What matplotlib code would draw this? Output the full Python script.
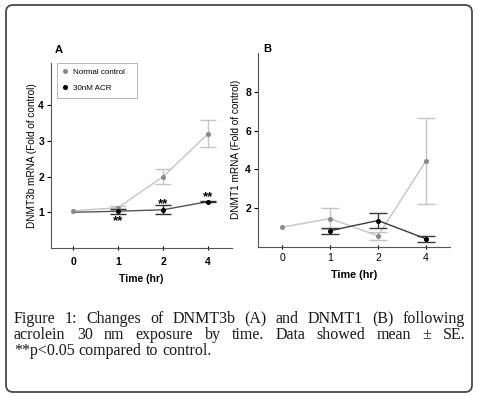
import numpy as np
import matplotlib.pyplot as plt
import matplotlib.transforms as mtransforms
from matplotlib.patches import FancyBboxPatch
from matplotlib.lines import Line2D

plt.rcParams["font.family"] = ["Liberation Sans", "DejaVu Sans"]

时间标签 = ["0", "1", "2", "4"]

# A: DNMT3b
a_对照 = [1.04, 1.13, 2.0, 3.2]
a_对照误差 = [0.0, 0.05, 0.2, 0.38]
a_ACR = [1.0, 1.03, 1.07, 1.3]
a_ACR误差 = [0.0, 0.07, 0.13, 0.02]
a_星号位置 = [(1, 0.84), (2, 1.32), (3, 1.5)]

# B: DNMT1
b_对照 = [1.0, 1.45, 0.55, 4.45]
b_对照误差 = [0.0, 0.55, 0.2, 2.25]
b_ACR = [np.nan, 0.82, 1.35, 0.4]
b_ACR误差 = [0.0, 0.15, 0.4, 0.15]

灰线 = "#c4c4c4"
灰点 = "#8a8a8a"
黑线 = "#3a3a3a"

W, H = 480, 397
fig = plt.figure(figsize=(W / 100, H / 100), dpi=100)


def px_axes(left, top, right, bottom):
    return fig.add_axes([left / W, 1 - bottom / H, (right - left) / W, (bottom - top) / H])


def style_axis(ax, bold_x):
    for s in ["top", "right"]:
        ax.spines[s].set_visible(False)
    for s in ["left", "bottom"]:
        ax.spines[s].set_color("#555555")
        ax.spines[s].set_linewidth(0.8)
    ax.tick_params(axis="y", length=3, width=0.8, pad=2, labelsize=7.5)
    ax.tick_params(axis="x", width=0.8, labelsize=7.5, direction="inout", length=3)
    for lab in ax.get_yticklabels():
        lab.set_fontweight("bold")
    if bold_x:
        for lab in ax.get_xticklabels():
            lab.set_fontweight("bold")


def draw_series(ax, vals, errs, line_c, mark_c, cap):
    x = np.arange(len(vals))
    v = np.array(vals, dtype=float)
    ax.plot(x, v, color=line_c, lw=1.0, zorder=2)
    for xi, vi, ei in zip(x, v, errs):
        if np.isnan(vi) or ei == 0:
            continue
        ax.errorbar(xi, vi, yerr=ei, color=line_c, lw=1.0, capsize=cap, capthick=1.0, zorder=2)
    ax.plot(x, v, ls="none", marker="o", ms=2.6, color=mark_c, zorder=3)


# Panel A
axA = px_axes(51, 63, 232, 248)
draw_series(axA, a_对照, a_对照误差, 灰线, 灰点, 6)
axA.plot(np.arange(len(a_ACR)), a_ACR, color="#555555", lw=1.0, zorder=2)
for xi, vi, ei in zip(range(1, 4), a_ACR[1:], a_ACR误差[1:]):
    axA.errorbar(xi, vi, yerr=ei, color="#333333", lw=1.0, capsize=6, capthick=1.0, zorder=2)
axA.plot(range(1, 4), a_ACR[1:], ls="none", marker="o", ms=2.6, color="black", zorder=3)
# asterisks: baseline shifted down so the glyphs sit centred on the given value
星号变换 = mtransforms.offset_copy(axA.transData, fig=fig, x=0, y=-6, units="dots")
for xs, ys in a_星号位置:
    axA.text(xs, ys, "**", ha="center", va="baseline", fontsize=9.5, fontweight="bold",
             transform=星号变换)
axA.set_xlim(-0.49, 3.53)
axA.set_ylim(0, 5.18)
axA.set_xticks(range(4))
axA.set_xticklabels(时间标签)
axA.set_yticks([1, 2, 3, 4])
style_axis(axA, True)
axA.tick_params(axis="x", pad=5)
axA.set_xlabel("Time (hr)", fontsize=7.5, fontweight="bold", labelpad=5)
axA.set_ylabel("DNMT3b mRNA (Fold of control)", fontsize=7.2, labelpad=1)
fig.text(55 / W, 1 - 50 / H, "A", fontsize=8, fontweight="bold", ha="left", va="center")

handles = [
    Line2D([], [], ls="none", marker="o", ms=2.6, color=灰点),
    Line2D([], [], ls="none", marker="o", ms=2.6, color="black"),
]
leg = axA.legend(handles, ["Normal control   ", "30nM ACR"], loc="upper left",
                 bbox_to_anchor=(6 / 181, 1.0), fontsize=5.8, frameon=True,
                 fancybox=False, borderpad=0.7, handlelength=0.6, handletextpad=0.7,
                 labelspacing=1.0, borderaxespad=0)
leg.get_frame().set_edgecolor("#999999")
leg.get_frame().set_linewidth(0.6)

# Panel B
axB = px_axes(258, 53, 450, 246.5)
draw_series(axB, b_对照, b_对照误差, 灰线, 灰点, 6.5)
draw_series(axB, b_ACR, b_ACR误差, 黑线, "black", 6.5)
axB.set_xlim(-0.5, 3.5)
axB.set_ylim(0, 10.05)
axB.set_xticks(range(4))
axB.set_xticklabels(时间标签)
axB.set_yticks([2, 4, 6, 8])
style_axis(axB, False)
axB.tick_params(axis="x", pad=3)
axB.set_xlabel("Time (hr)", fontsize=7.8, fontweight="bold", labelpad=5)
axB.set_ylabel("DNMT1 mRNA (Fold of control)", fontsize=7.2, labelpad=3)
fig.text(263 / W, 1 - 49 / H, "B", fontsize=8, fontweight="bold", ha="left", va="center")

# frame
frame = FancyBboxPatch((6, 5), 466, 387, boxstyle="round,pad=0,rounding_size=7",
                       transform=None, fill=False, edgecolor="#4a4a4a", lw=1.3)
fig.patches.append(frame)

# caption, justified
cap_font = dict(family=["Liberation Serif", "DejaVu Serif"], size=11.5, color="#1a1a1a")
行 = [
    "Figure 1: Changes of DNMT3b (A) and DNMT1 (B) following".split(),
    "acrolein 30 nm exposure by time. Data showed mean ± SE.".split(),
    "**p<0.05 compared to control.".split(),
]
基线 = [323, 339, 355]
x_left, x_right = 14, 465
fig.canvas.draw()
renderer = fig.canvas.get_renderer()
for i, (words, yb) in enumerate(zip(行, 基线)):
    texts = [fig.text(0, 1 - yb / H, w, va="baseline", ha="left", **cap_font) for w in words]
    widths = [t.get_window_extent(renderer).width for t in texts]
    if i < len(行) - 1:
        gap = (x_right - x_left - sum(widths)) / (len(words) - 1)
    else:
        sp = fig.text(0, 0, "a a", **cap_font)
        sp2 = fig.text(0, 0, "aa", **cap_font)
        gap = sp.get_window_extent(renderer).width - sp2.get_window_extent(renderer).width
        sp.remove()
        sp2.remove()
    x = x_left
    for t, w in zip(texts, widths):
        t.set_x(x / W)
        x += w + gap

fig.savefig("out.png", dpi=100)
